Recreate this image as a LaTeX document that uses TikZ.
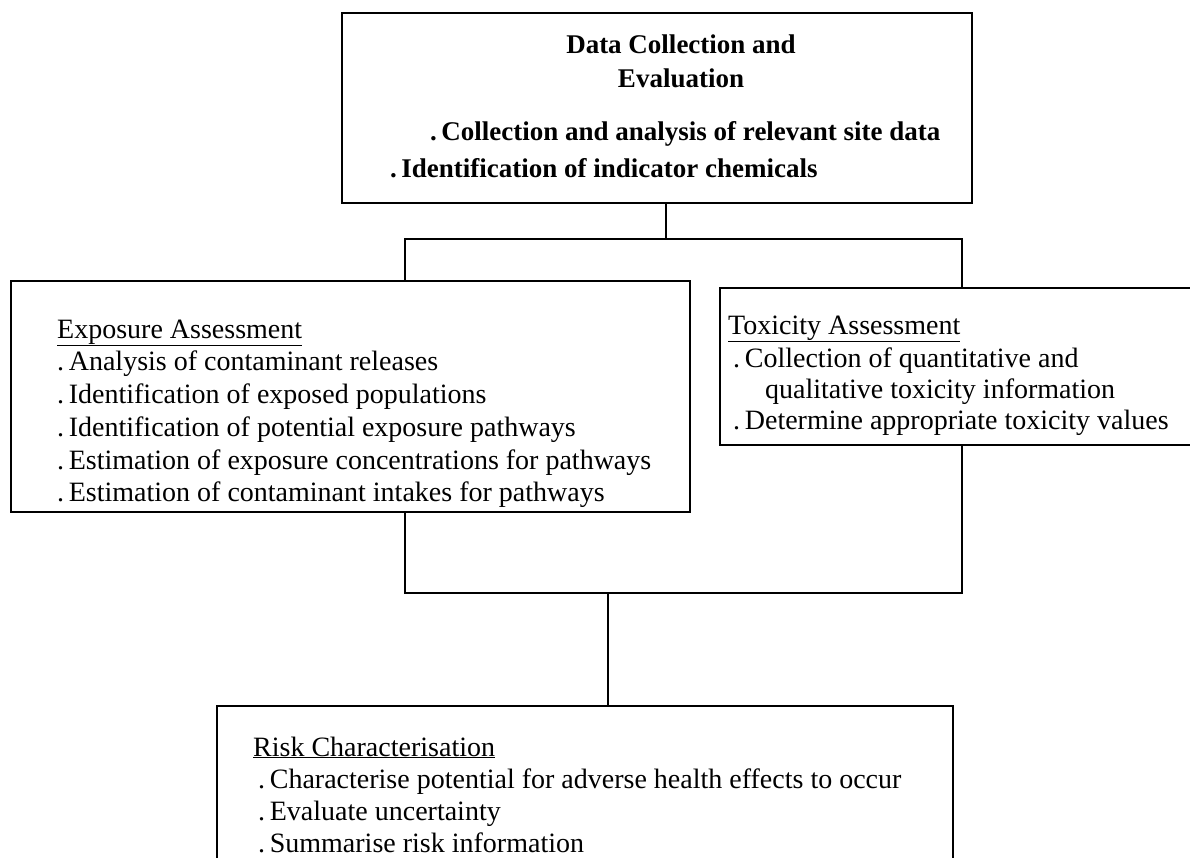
\documentclass[tikz,border=0pt]{standalone}
\usepackage{fontspec}
\setmainfont{Liberation Serif}
\begin{document}
\begin{tikzpicture}[x=1pt,y=-1pt,
  box/.style={draw=black,line width=2.5pt,fill=white,inner sep=0pt,outer sep=0pt},
  txt/.style={anchor=base west,inner sep=0pt,font=\fontsize{28}{33}\selectfont},
  btxt/.style={txt,font=\fontsize{27}{33}\selectfont\bfseries},
  conn/.style={draw=black,line width=2.5pt}]
\useasboundingbox[fill=white] (0,0) rectangle (1190,857);
% boxes
\node[box,minimum width=630,minimum height=190] (top) at (657,108) {};
\node[box,minimum width=557,minimum height=354] (mid) at (683.5,416) {};
\node[box,minimum width=679,minimum height=231] (expo) at (350.5,396.5) {};
\node[box,minimum width=480,minimum height=157] (tox) at (960,366.5) {};
\node[box,minimum width=736,minimum height=174] (risk) at (585,793) {};
% connectors
\coordinate (c1) at (666,0);
\coordinate (c2) at (608,0);
\draw[conn] (top.south -| c1) -- (mid.north -| c1);
\draw[conn] (mid.south -| c2) -- (risk.north -| c2);
% top box text
\node[btxt,anchor=base] (t1) at (681,53) {Data Collection and};
\node[btxt,anchor=base] (t2) at (681,87) {Evaluation};
\node[btxt] (t3) at (430,140) {.\,Collection and analysis of relevant site data};
\node[btxt] (t4) at (390,177) {.\,Identification of indicator chemicals};
% exposure text
\node[txt] (e0) at (57,338) {\underline{Exposure Assessment}};
\node[txt] (e1) at (57,370) {.\,Analysis of contaminant releases};
\node[txt] (e2) at (57,403) {.\,Identification of exposed populations};
\node[txt] (e3) at (57,436) {.\,Identification of potential exposure pathways};
\node[txt] (e4) at (57,469) {.\,Estimation of exposure concentrations for pathways};
\node[txt] (e5) at (57,501) {.\,Estimation of contaminant intakes for pathways};
% toxicity text
\node[txt] (x0) at (728,334) {\underline{Toxicity Assessment}};
\node[txt] (x1) at (733,367) {.\,Collection of quantitative and};
\node[txt] (x2) at (765,398) {qualitative toxicity information};
\node[txt] (x3) at (733,429) {.\,Determine appropriate toxicity values};
% risk text
\node[txt] (r0) at (253,756) {\underline{Risk Characterisation}};
\node[txt] (r1) at (258,788) {.\,Characterise potential for adverse health effects to occur};
\node[txt] (r2) at (258,820) {.\,Evaluate uncertainty};
\node[txt] (r3) at (258,852) {.\,Summarise risk information};
\end{tikzpicture}
\end{document}
